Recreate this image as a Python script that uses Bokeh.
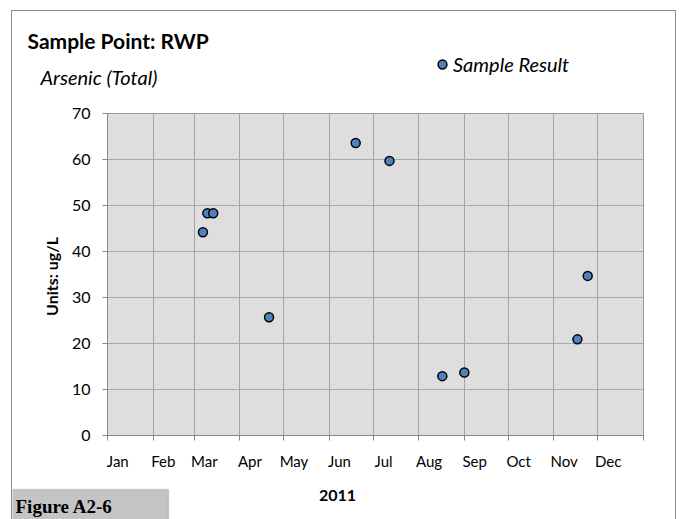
import pandas as pd
from bokeh.plotting import figure
from bokeh.models import Range1d, FixedTicker, Label, Legend, LegendItem, BoxAnnotation
from bokeh.layouts import column
from bokeh.embed import file_html
from bokeh.resources import INLINE

# ---- data ----
sample_dates = ["2011-03-07", "2011-03-10", "2011-03-14", "2011-04-21", "2011-06-19",
                "2011-07-12", "2011-08-17", "2011-09-01", "2011-11-17", "2011-11-24"]
sample_values = [44.2, 48.3, 48.3, 25.7, 63.6, 59.7, 12.9, 13.7, 20.9, 34.7]
month_labels = ["Jan", "Feb", "Mar", "Apr", "May", "Jun", "Jul", "Aug", "Sep", "Oct", "Nov", "Dec"]
y_ticks = [0, 10, 20, 30, 40, 50, 60, 70]
year_label = "2011"
title_text = "Sample Point: RWP"
subtitle_text = "Arsenic (Total)"
series_name = "Sample Result"
y_axis_text = "Units:  ug/L"
figure_tag = "Figure A2-6"


def ms(d):
    return int(pd.Timestamp(d).value // 10**6)


month_starts = [ms(f"2011-{m:02d}-01") for m in range(1, 13)] + [ms("2012-01-01")]
label_pos = [ms(f"2011-{m:02d}-08") for m in range(1, 13)]

W = 663
FONT = "Lato"
MARK = dict(fill_color="#4f81bd", line_color="black", line_width=1.5)


def blank(h):
    f = figure(width=W, height=h, output_backend="svg", toolbar_location=None,
               x_range=Range1d(0, 1), y_range=Range1d(0, 1),
               x_axis_location=None, y_axis_location=None, min_border=0,
               frame_align=False)
    f.grid.visible = False
    f.outline_line_color = None
    f.background_fill_color = "white"
    f.border_fill_color = "white"
    return f


def lab(f, text, x, y, size, style="normal", font=FONT, align="left", **kw):
    f.add_layout(Label(x=x, y=y, x_units="canvas", y_units="canvas", text=text,
                       text_font=font, text_font_size=size, text_font_style=style,
                       text_align=align, text_baseline="middle", text_color="black", **kw))


# ---- top strip: titles + legend ----
top = blank(89)
lab(top, title_text, 15, 29, "21px", "bold")
lab(top, subtitle_text, 28, 65, "20px", "italic")
# legend key renderer: the series itself, lying outside this strip's 0..1 ranges
key = top.scatter(x=pd.to_datetime(sample_dates), y=sample_values, size=9, **MARK)
top.add_layout(Legend(items=[LegendItem(label=series_name, renderers=[key])],
                      location=(419, 24), label_text_font=FONT, label_text_font_style="italic",
                      label_text_font_size="20px", label_text_color="black",
                      border_line_alpha=0, background_fill_alpha=0,
                      glyph_width=22, glyph_height=22, label_standoff=0, padding=0, margin=0,
                      label_height=22))

# ---- main chart ----
p = figure(width=W, height=380, output_backend="svg", toolbar_location=None,
           x_axis_type="datetime",
           x_range=Range1d(ms("2011-01-01"), ms("2012-01-01")),
           y_range=Range1d(0, 70),
           min_border_left=95, min_border_right=32, min_border_top=13, min_border_bottom=45)
p.background_fill_color = "#dedede"
p.border_fill_color = "white"
p.outline_line_color = "#9a9a9a"

p.scatter(x=pd.to_datetime(sample_dates), y=sample_values, size=9, **MARK)

xa = p.xaxis[0]
xa.ticker = FixedTicker(ticks=label_pos, minor_ticks=month_starts)
xa.major_label_overrides = {t: m for t, m in zip(label_pos, month_labels)}
xa.major_tick_line_color = None
xa.major_tick_out = 5
xa.minor_tick_line_color = "#888888"
xa.minor_tick_out = 5
xa.minor_tick_in = 0
xa.axis_line_color = "#888888"
xa.major_label_text_font = FONT
xa.major_label_text_font_size = "15px"
xa.major_label_text_color = "black"
xa.major_label_standoff = 11

ya = p.yaxis[0]
ya.ticker = FixedTicker(ticks=y_ticks)
ya.axis_line_color = "#888888"
ya.major_tick_line_color = "#888888"
ya.major_tick_out = 5
ya.major_tick_in = 0
ya.minor_tick_line_color = None
ya.major_label_text_font = FONT
ya.major_label_text_font_size = "16px"
ya.major_label_text_color = "black"
ya.major_label_standoff = 12
ya.axis_label = y_axis_text
ya.axis_label_text_font = FONT
ya.axis_label_text_font_size = "16px"
ya.axis_label_text_font_style = "bold"
ya.axis_label_text_color = "black"
ya.axis_label_standoff = 8

p.xgrid.ticker = FixedTicker(ticks=month_starts)
p.xgrid.grid_line_color = "#a4a4a4"
p.ygrid.ticker = FixedTicker(ticks=y_ticks)
p.ygrid.grid_line_color = "#a8a8a8"

# ---- bottom strip: year + figure tag ----
bot = blank(39)
bot.add_layout(BoxAnnotation(left=0, right=156, top=9, bottom=60,
                             left_units="canvas", right_units="canvas",
                             top_units="canvas", bottom_units="canvas",
                             fill_color="#c4c4c4", fill_alpha=1,
                             line_color="#8c8c8c", line_width=1.5))
lab(bot, year_label, 325, 15, "16px", "bold", align="center")
lab(bot, figure_tag, 3, 26, "19px", "bold", font="Liberation Serif")

layout = column(top, p, bot, spacing=0,
                styles={"margin-left": "11px", "margin-top": "10px",
                        "border-left": "1px solid #8c8c8c", "border-top": "1px solid #8c8c8c",
                        "border-right": "1px solid #8c8c8c"})

open("out.html", "w").write(file_html(layout, INLINE))
